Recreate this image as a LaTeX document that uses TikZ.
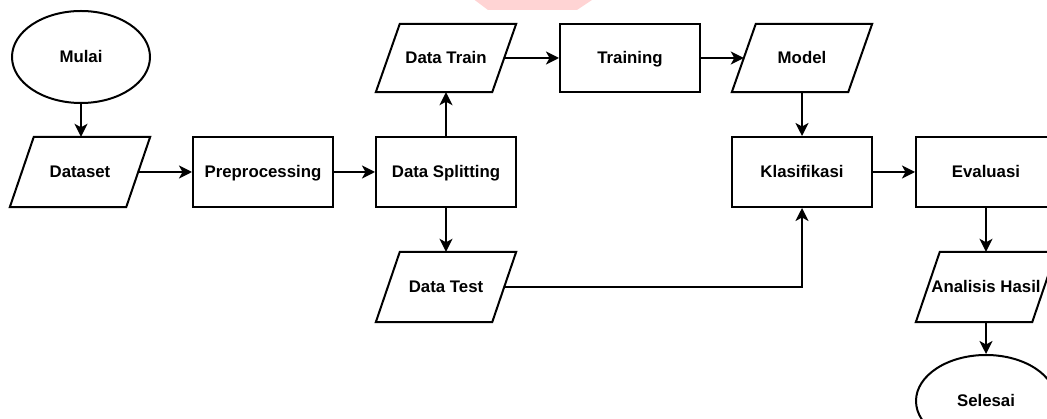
\documentclass[tikz,border=0pt]{standalone}
\usepackage{fontspec}
\setmainfont{Liberation Sans}
\usetikzlibrary{arrows.meta,shapes.geometric}

\tikzset{
  base/.style={font=\fontsize{16.8}{20}\selectfont\bfseries, inner sep=0pt, align=center,
    text height=12pt, text depth=0pt},
  proc/.style={base, draw, line width=2pt, rectangle, minimum width=140pt, minimum height=70pt},
  term/.style={base, draw, line width=2pt, ellipse, minimum width=138pt, minimum height=92pt},
  io/.style={base, rectangle, minimum width=116pt, minimum height=70pt},
  flow/.style={line width=2pt, -{Stealth[length=13pt,width=13pt,inset=3.5pt]}},
  ioline/.style={line width=2pt, line join=miter},
}

% parallelogram outline around an io node (slant of 24pt)
\newcommand\iooutline[1]{%
  \draw[ioline] ([xshift=12pt]#1.north west) -- ([xshift=12pt]#1.north east)
    -- ([xshift=-12pt]#1.south east) -- ([xshift=-12pt]#1.south west) -- cycle;}

\begin{document}
\begin{tikzpicture}[x=1pt,y=-1pt]
  \useasboundingbox (0,0) rectangle (1047,419);
  \clip (0,0) rectangle (1047,419);
  \fill[white] (0,0) rectangle (1047,419);

  % faint mark at the top edge
  \fill[red!17] (472,-2) -- (595,-2) -- (577,10) -- (488,10) -- cycle;

  % nodes
  \node[term] (mulai) at (81,57) {Mulai};
  \node[io] (dataset) at (80,172) {Dataset};
  \node[proc] (pre) at (263,172) {Preprocessing};
  \node[proc] (split) at (446,172) {Data Splitting};
  \node[io, minimum height=68pt] (train) at (446,58) {Data Train};
  \node[proc, minimum height=68pt] (training) at (630,58) {Training};
  \node[io, minimum height=68pt] (model) at (802,58) {Model};
  \node[proc] (klas) at (802,172) {Klasifikasi};
  \node[proc] (eval) at (986,172) {Evaluasi};
  \node[io] (test) at (446,287) {Data Test};
  \node[io] (anal) at (986,287) {Analisis Hasil};
  \node[term, minimum width=140pt] (selesai) at (986,401) {Selesai};

  \iooutline{dataset}
  \iooutline{train}
  \iooutline{model}
  \iooutline{test}
  \iooutline{anal}

  % connectors
  \draw[flow] (mulai.south) -- (mulai.south |- dataset.north);
  \draw[flow] (dataset.east) -- (pre.west);
  \draw[flow] (pre.east) -- (split.west);
  \draw[flow] (split.north) -- (train.south);
  \draw[flow] (split.south) -- (test.north);
  \draw[flow] (train.east) -- (training.west);
  \draw[flow] (training.east) -- (model.west);
  \draw[flow] (model.south) -- (klas.north);
  \draw[flow] (klas.east) -- (eval.west);
  \draw[flow] (test.east) -| (klas.south);
  \draw[flow] (eval.south) -- (anal.north);
  \draw[flow] (anal.south) -- (selesai.north);
\end{tikzpicture}
\end{document}
